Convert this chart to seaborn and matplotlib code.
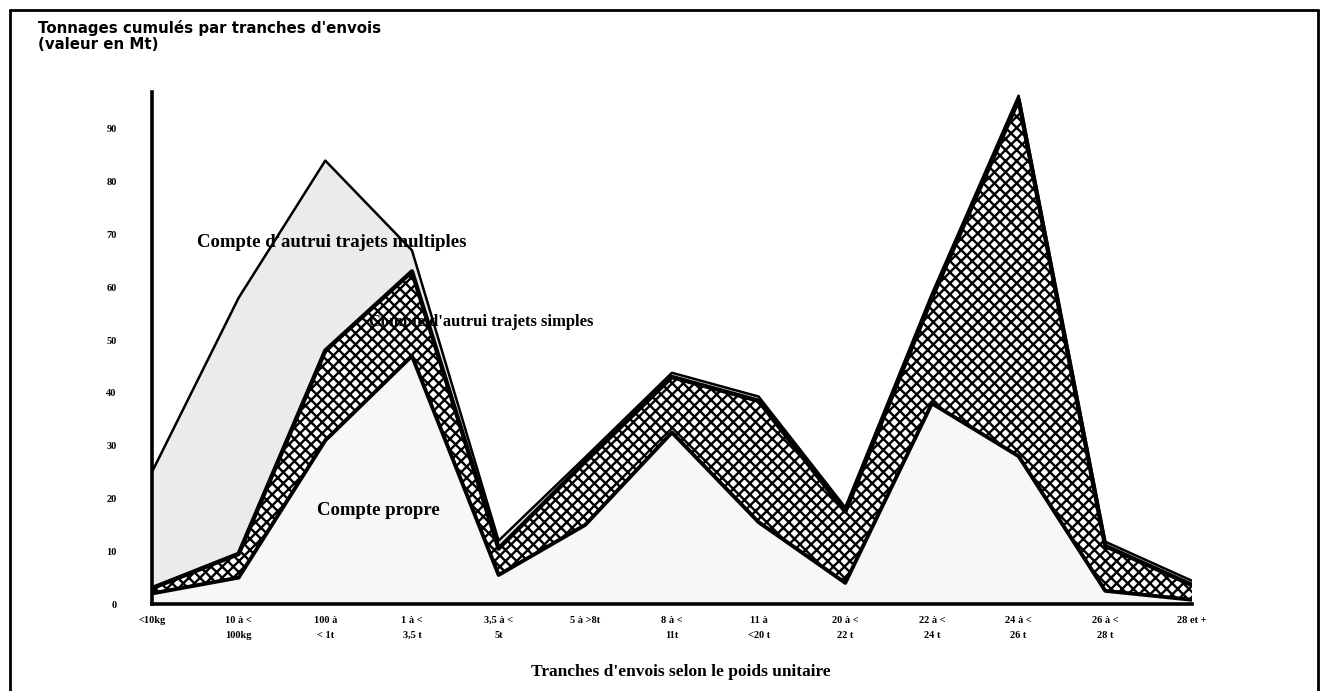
import numpy as np
import matplotlib
matplotlib.use("Agg")
import matplotlib.pyplot as plt
from matplotlib.lines import Line2D
import seaborn as sns

# categories (tranches d'envois)
tranches = ["<10kg", "10 à <\n100kg", "100 à\n< 1t", "1 à <\n3,5 t", "3,5 à <\n5t",
            "5 à >8t", "8 à <\n11t", "11 à\n<20 t", "20 à <\n22 t", "22 à <\n24 t",
            "24 à <\n26 t", "26 à <\n28 t", "28 et +"]

# tonnages (Mt), one layer per type of transport
compte_propre = [2, 5, 31, 47, 5.5, 15, 32.5, 15.5, 4, 38, 28, 2.5, 0.8]
autrui_simples = [1, 4.5, 17, 16, 5, 12, 10.5, 23, 13.5, 20, 67.5, 8.5, 2.8]
autrui_multiples = [22, 48.5, 36, 4, 1.5, 0.8, 0.8, 0.8, 0.8, 0.8, 0.8, 0.8, 0.8]

y_ticks = [0, 10, 20, 30, 40, 50, 60, 70, 80, 90]

sns.set_style("white")
plt.rcParams['font.family'] = ['Liberation Serif', 'DejaVu Serif']
plt.rcParams['hatch.linewidth'] = 1.7
plt.rcParams['text.color'] = 'black'
plt.rcParams['axes.edgecolor'] = 'black'
plt.rcParams['xtick.color'] = 'black'
plt.rcParams['ytick.color'] = 'black'
plt.rcParams['axes.labelcolor'] = 'black'

x = np.arange(len(tranches))
niveau1 = np.array(compte_propre, dtype=float)
niveau2 = niveau1 + np.array(autrui_simples)
niveau3 = niveau2 + np.array(autrui_multiples)

fig = plt.figure(figsize=(13.26, 6.91), dpi=100)
ax = fig.add_axes([0.1146, 0.1259, 0.7843, 0.741])

# stacked areas
ax.fill_between(x, 0, niveau1, facecolor='#f7f7f7', edgecolor='none')
ax.fill_between(x, niveau1, niveau2, facecolor='white', edgecolor='black',
                hatch='xxx', linewidth=0)
ax.fill_between(x, niveau2, niveau3, facecolor='#ebebeb', edgecolor='none')

# boundary lines
sns.lineplot(x=x, y=niveau1, color='black', linewidth=2.8, ax=ax)
sns.lineplot(x=x, y=niveau2, color='black', linewidth=3.2, ax=ax)
sns.lineplot(x=x, y=niveau3, color='black', linewidth=1.8, ax=ax)

ax.set_xlim(0, len(tranches) - 1)
ax.set_ylim(0, 97)
ax.set_xticks(x)
ax.set_xticklabels(tranches, fontsize=7.5, fontweight='bold', linespacing=1.9)
ax.set_yticks(y_ticks)
ax.set_yticklabels([str(v) for v in y_ticks], fontsize=7.5, fontweight='bold')
ax.tick_params(axis='y', direction='inout', length=7, width=1.5, pad=22)
ax.tick_params(axis='x', direction='inout', length=5, width=1.5, pad=6)

sns.despine(ax=ax)
ax.spines['left'].set_linewidth(2.6)
ax.spines['bottom'].set_linewidth(2.6)

ax.set_xlabel("Tranches d'envois selon le poids unitaire", fontsize=12.5,
              fontweight='bold')
ax.xaxis.set_label_coords(0.509, -0.118)

# labels of the layers
ax.text(0.52, 68.4, "Compte d'autrui trajets multiples", fontsize=13.5,
        fontweight='bold', va='center', ha='left')
ax.text(2.51, 53.4, "Compte d'autrui trajets simples", fontsize=12,
        fontweight='bold', va='center', ha='left')
ax.text(1.91, 17.8, "Compte propre", fontsize=13.5, fontweight='bold',
        va='center', ha='left')

fig.text(38 / 1326, 1 - 20 / 691, "Tonnages cumulés par tranches d'envois\n(valeur en Mt)",
         fontsize=10.8, fontweight='bold', family=['DejaVu Sans'], va='top', ha='left',
         linespacing=1.1)

# frame around the figure
fig.add_artist(Line2D([10 / 1326, 10 / 1326], [0, 1 - 10 / 691], color='black', lw=2))
fig.add_artist(Line2D([10 / 1326, 1318 / 1326], [1 - 10 / 691, 1 - 10 / 691], color='black', lw=2))
fig.add_artist(Line2D([1318 / 1326, 1318 / 1326], [0, 1 - 10 / 691], color='black', lw=2))

fig.savefig("out.png", dpi=100)
